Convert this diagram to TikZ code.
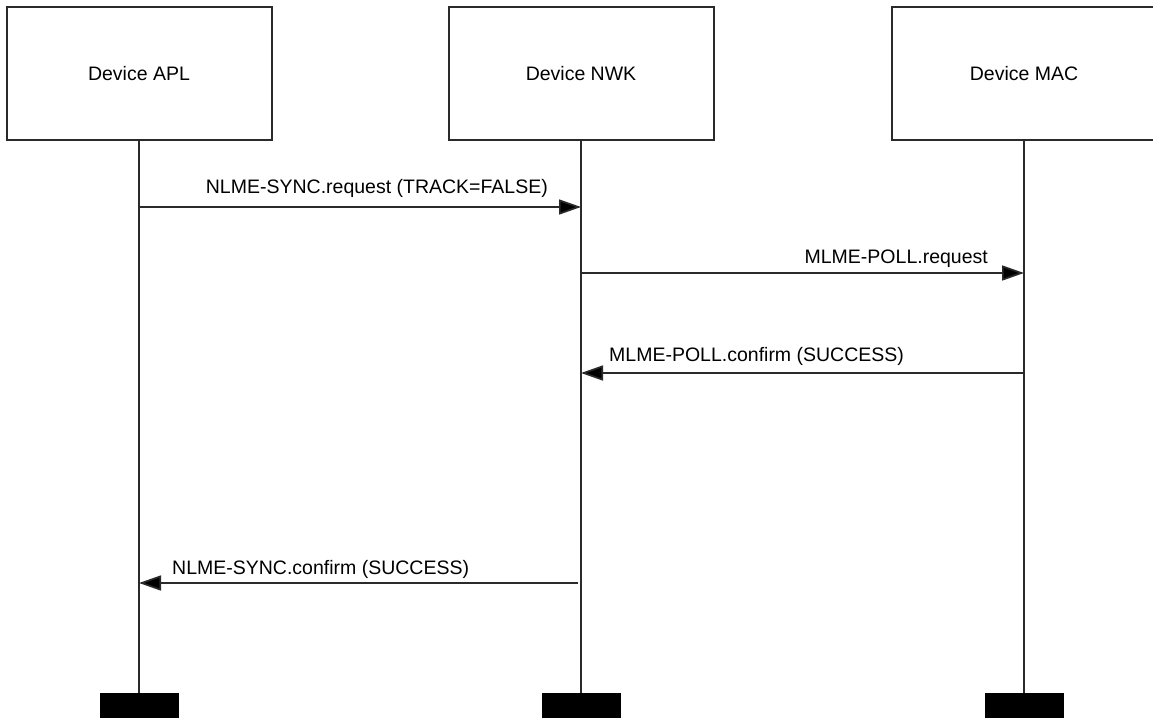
\documentclass[tikz,border=0pt]{standalone}
\usepackage{fontspec}
\setmainfont{Liberation Sans}
\usetikzlibrary{positioning,arrows.meta}
\definecolor{linegray}{HTML}{2A2A2A}

\begin{document}
\begin{tikzpicture}[x=1pt,y=-1pt,
 layer/.style={draw=linegray,line width=2pt,fill=white,minimum width=265pt,minimum height=133pt,inner sep=0pt,font=\fontsize{19.5}{23}\selectfont},
 endbar/.style={fill=black,minimum width=79pt,minimum height=30pt,inner sep=0pt,anchor=north},
 lifeline/.style={draw=linegray,line width=1.7pt},
 msg/.style={draw=linegray,line width=1.7pt,-{Triangle[length=22pt,width=15pt,fill=black]}},
 msglabel/.style={inner sep=0pt,font=\fontsize{19.5}{23}\selectfont}]

% Page frame (right box runs past the edge)
\useasboundingbox (0,0) rectangle (1153,717);
\clip (0,0) rectangle (1153,717);

% Layer boxes
\node[layer] (apl) at (139,73.5) {Device APL};
\node[layer] (nwk) at (581,73.5) {Device NWK};
\node[layer] (mac) at (1024,73.5) {Device MAC};

% End bars and lifelines
\node[endbar] (aplend) at (apl.south |- 0,693) {};
\node[endbar] (nwkend) at (nwk.south |- 0,693) {};
\node[endbar] (macend) at (mac.south |- 0,693) {};
\draw[lifeline] (apl.south) -- (aplend.north);
\draw[lifeline] (nwk.south) -- (nwkend.north);
\draw[lifeline] (mac.south) -- (macend.north);

% Message end points on the lifelines
\coordinate (syncreqA) at (apl.south |- 0,207); \coordinate (syncreqN) at (nwk.south |- 0,207);
\coordinate (pollreqN) at (nwk.south |- 0,273); \coordinate (pollreqM) at (mac.south |- 0,273);
\coordinate (pollcnfM) at (mac.south |- 0,373); \coordinate (pollcnfN) at (nwk.south |- 0,373);
\coordinate (synccnfN) at (578,583);            \coordinate (synccnfA) at (apl.south |- 0,583);

% Messages
\draw[msg] (syncreqA) -- (syncreqN);
\node[msglabel,anchor=base east] (syncreqlbl) at (548,193) {NLME-SYNC.request (TRACK=FALSE)};
\draw[msg] (pollreqN) -- (pollreqM);
\node[msglabel,anchor=base east] (pollreqlbl) at (988,263) {MLME-POLL.request};
\draw[msg] (pollcnfM) -- (pollcnfN);
\node[msglabel,anchor=base west] (pollcnflbl) at (609,361) {MLME-POLL.confirm (SUCCESS)};
\draw[msg] (synccnfN) -- (synccnfA);
\node[msglabel,anchor=base west] (synccnflbl) at (172,574) {NLME-SYNC.confirm (SUCCESS)};
\end{tikzpicture}
\end{document}
